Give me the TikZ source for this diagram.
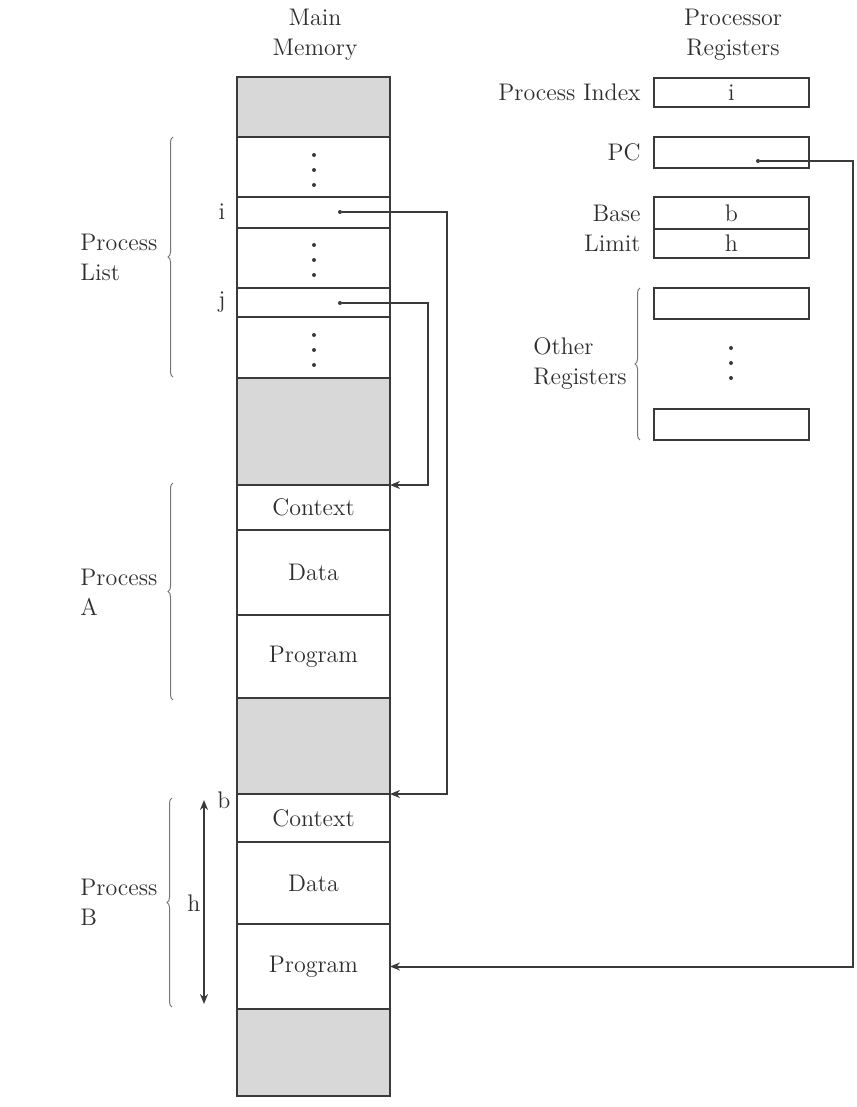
\documentclass[tikz,border=0pt]{standalone}
\usetikzlibrary{arrows.meta,decorations.pathreplacing}
\definecolor{ln}{HTML}{3A3A3A}
\definecolor{shade}{HTML}{D8D8D8}
\definecolor{txt}{HTML}{2E2E2E}
\begin{document}
\begin{tikzpicture}[x=0.5pt,y=-0.5pt,
  font=\fontsize{12}{15}\selectfont, text=txt,
  memcell/.style={draw=ln, line width=0.9pt, minimum width=76.5pt, inner sep=0pt, outer sep=0pt, anchor=north west},
  graycell/.style={memcell, fill=shade},
  regcell/.style={draw=ln, line width=0.9pt, minimum width=77.5pt, inner sep=0pt, outer sep=0pt, anchor=north west},
  smalldot/.style={circle, fill=ln, inner sep=0pt, minimum size=2pt},
  conn/.style={draw=ln, line width=1pt, -{Stealth[length=5pt,width=4pt]}},
  bracestyle/.style={draw=ln!70, line width=0.5pt, decorate, decoration={brace, amplitude=2.5pt}},
  lbl/.style={inner sep=0pt, align=left, anchor=west},
  rlbl/.style={inner sep=0pt, anchor=east}
]
\useasboundingbox (0,0) rectangle (856,1107);

% headers
\node[align=center, inner sep=0pt] (mmhead) at (315,35) {Main\\Memory};
\node[align=center, inner sep=0pt] (prhead) at (733,35) {Processor\\Registers};

% main memory column
\node[graycell, minimum height=30pt] (m0) at (237,77) {};
\node[memcell, minimum height=30pt] (m1) at (237,137) {};
\node[memcell, minimum height=15.5pt] (mi) at (237,197) {};
\node[memcell, minimum height=30pt] (m2) at (237,228) {};
\node[memcell, minimum height=14.5pt] (mj) at (237,288) {};
\node[memcell, minimum height=30.5pt] (m3) at (237,317) {};
\node[graycell, minimum height=53.5pt] (m4) at (237,378) {};
\node[memcell, minimum height=22.5pt] (ca) at (237,485) {Context};
\node[memcell, minimum height=42.5pt] (da) at (237,530) {Data};
\node[memcell, minimum height=41.5pt] (pa) at (237,615) {Program};
\node[graycell, minimum height=48pt] (m5) at (237,698) {};
\node[memcell, minimum height=24pt] (cb) at (237,794) {Context};
\node[memcell, minimum height=41pt] (db) at (237,842) {Data};
\node[memcell, minimum height=42.5pt] (pb) at (237,924) {Program};
\node[graycell, minimum height=43.5pt] (m6) at (237,1009) {};

% vertical dots in memory
\foreach \yy in {155,170,185, 245,260,275, 335,350,365}
  \fill[ln] (314,\yy) circle (1pt);

% list entries
\node[inner sep=0pt] (ilbl) at (222,212) {i};
\node[inner sep=0pt] (jlbl) at (222,302) {j};
\node[smalldot] (idot) at (340,212) {};
\node[smalldot] (jdot) at (340,303) {};

% registers
\node[regcell, minimum height=14.5pt] (rpi) at (654,78) {i};
\node[regcell, minimum height=15.5pt] (rpc) at (654,137) {};
\node[regcell, minimum height=16pt] (rbase) at (654,197) {b};
\node[regcell, minimum height=14.5pt] (rlimit) at (654,229) {h};
\node[regcell, minimum height=15.5pt] (ro1) at (654,288) {};
\node[regcell, minimum height=15.5pt] (ro2) at (654,409) {};
\foreach \yy in {348,363,378}
  \fill[ln] (731,\yy) circle (1pt);
\node[smalldot] (pcdot) at (758,161) {};

\node[rlbl] (lpi) at (641,92) {Process Index};
\node[rlbl] (lpc) at (641,152) {PC};
\node[rlbl] (lbase) at (641,213) {Base};
\node[rlbl] (llimit) at (641,243) {Limit};
\node[lbl] (lother) at (533,364) {Other\\Registers};

% braces
\draw[bracestyle] (640,440) -- (640,288);
\draw[bracestyle] (173,377) -- (173,137);
\draw[bracestyle] (173,700) -- (173,483);
\draw[bracestyle] (172,1007) -- (172,798);

\node[lbl] (lplist) at (80,257) {Process\\List};
\node[lbl] (lpa) at (80,592) {Process\\A};
\node[lbl] (lpb) at (80,902) {Process\\B};

% b / h markers for process B
\coordinate (htop) at (204,800);
\coordinate (hbot) at (204,1004);
\draw[draw=ln, line width=1pt, {Stealth[length=5pt,width=4pt]}-{Stealth[length=5pt,width=4pt]}] (htop) -- (hbot);
\node[inner sep=0pt] (hlbl) at (194,903) {h};
\node[inner sep=0pt] (blbl) at (224,800) {b};

% connectors
\coordinate (iX) at (447,0);
\coordinate (jX) at (428,0);
\coordinate (pcX) at (853,0);
\draw[conn] (idot) -- (idot -| iX) |- (cb.north east);
\draw[conn] (jdot) -- (jdot -| jX) |- (ca.north east);
\draw[conn] (pcdot) -- (pcdot -| pcX) |- (pb.east);
\end{tikzpicture}
\end{document}
